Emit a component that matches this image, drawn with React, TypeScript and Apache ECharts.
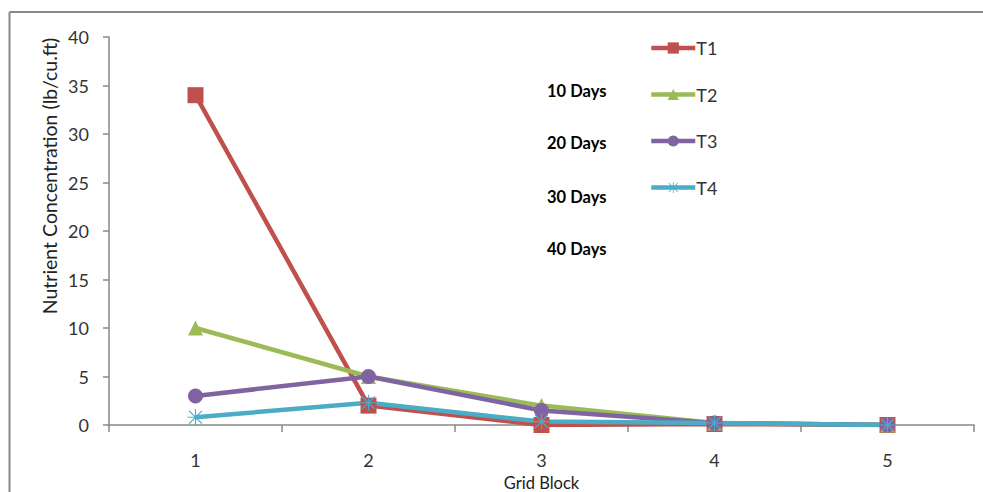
import React, { useEffect, useRef } from "react";
import * as echarts from "echarts";

const categories = ["1", "2", "3", "4", "5"];
const t1 = [34, 2, 0, 0.1, 0];
const t2 = [10, 5, 2, 0.2, 0];
const t3 = [3, 5, 1.5, 0.2, 0];
const t4 = [0.8, 2.3, 0.35, 0.2, 0];
const dayLabels = ["10 Days", "20 Days", "30 Days", "40 Days"];
const dayLabelY = [91, 143, 197, 249];

const FONT = "Lato, 'Open Sans', sans-serif";
const ASTERISK =
  "path://M9.3 0 h1.4 v20 h-1.4 z M0 9.3 h20 v1.4 h-20 z M1.5 2.5 L2.5 1.5 L18.5 17.5 L17.5 18.5 Z M17.5 1.5 L18.5 2.5 L2.5 18.5 L1.5 17.5 Z";

export default function App() {
  const ref = useRef<HTMLDivElement>(null);
  useEffect(() => {
    if (!ref.current) return;
    const chart = echarts.init(ref.current, null, { renderer: "svg" });
    const mk = (name: string, data: number[], color: string, symbol: string, size: number) => ({
      name,
      type: "line",
      data,
      symbol,
      symbolSize: size,
      showAllSymbol: true,
      lineStyle: { color, width: 4.5 },
      itemStyle: { color },
      emphasis: { disabled: true },
    });
    chart.setOption({
      animation: false,
      backgroundColor: "#ffffff",
      textStyle: { fontFamily: FONT },
      grid: {
        left: 109,
        right: 9,
        top: 37,
        bottom: 67,
        containLabel: false,
        outerBoundsMode: "none",
      },
      legend: {
        orient: "vertical",
        left: 644,
        top: 34,
        itemWidth: 44,
        itemHeight: 14,
        itemGap: 28.5,
        lineStyle: { width: 4.5 },
        textStyle: { fontSize: 18, color: "#333", fontFamily: FONT, padding: [0, 0, 0, -4] },
        data: ["T1", "T2", "T3", "T4"],
      },
      xAxis: {
        type: "category",
        data: categories,
        boundaryGap: true,
        name: "Grid Block",
        nameLocation: "middle",
        nameGap: 49,
        nameTextStyle: { fontSize: 16.5, color: "#222", fontFamily: FONT },
        axisLine: { lineStyle: { color: "#888", width: 1.5 } },
        axisTick: { show: true, length: 7, interval: 0, lineStyle: { color: "#888", width: 1.5 } },
        axisLabel: { fontSize: 18, color: "#333", margin: 26, fontFamily: FONT },
        splitLine: { show: false },
      },
      yAxis: {
        type: "value",
        min: 0,
        max: 40,
        interval: 5,
        axisLine: { show: true, lineStyle: { color: "#888", width: 1.5 } },
        axisTick: { show: true, length: 6, lineStyle: { color: "#888", width: 1.5 } },
        axisLabel: { fontSize: 18, color: "#333", margin: 20, fontFamily: FONT },
        splitLine: { show: false },
      },
      series: [
        mk("T1", t1, "#C0504D", "rect", 16),
        mk("T2", t2, "#9BBB59", "triangle", 15),
        mk("T3", t3, "#8064A2", "circle", 15),
        mk("T4", t4, "#4BACC6", ASTERISK, 16),
      ],
      graphic: [
        {
          type: "line",
          shape: { x1: 9.5, y1: 12, x2: 983, y2: 12 },
          style: { stroke: "#888", lineWidth: 2 },
          silent: true,
        },
        {
          type: "line",
          shape: { x1: 9.5, y1: 12, x2: 9.5, y2: 492 },
          style: { stroke: "#888", lineWidth: 2 },
          silent: true,
        },
        {
          type: "text",
          x: 49,
          y: 176,
          rotation: Math.PI / 2,
          style: {
            text: "Nutrient Concentration (lb/cu.ft)",
            fontSize: 19.5,
            fill: "#222",
            fontFamily: FONT,
            align: "center",
            verticalAlign: "middle",
          },
        },
        ...dayLabels.map((t, i) => ({
          type: "text",
          x: 547,
          y: dayLabelY[i],
          style: {
            text: t,
            fontSize: 16.5,
            fontWeight: "bold",
            fill: "#000",
            fontFamily: FONT,
            align: "left",
            verticalAlign: "middle",
          },
        })),
      ],
    });
    return () => chart.dispose();
  }, []);
  return (
    <div
      ref={ref}
      style={{ position: "absolute", left: 0, top: 0, width: 983, height: 492 }}
    />
  );
}
